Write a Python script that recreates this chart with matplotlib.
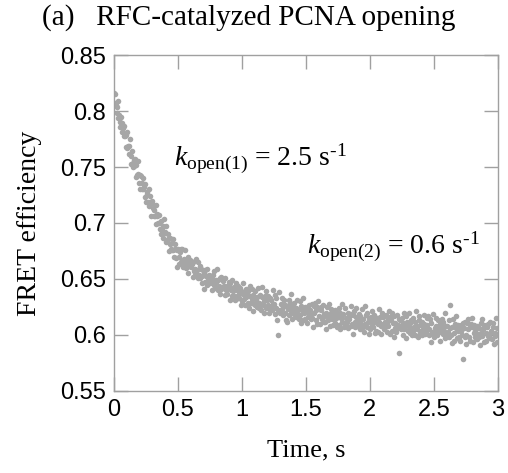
import numpy as np
import matplotlib
matplotlib.use('Agg')
import matplotlib.pyplot as plt
from matplotlib.ticker import FormatStrFormatter, MultipleLocator

# FRET efficiency trace (one row = 0.05 s)
fret = [
    0.816, 0.807, 0.815, 0.805, 0.798, 0.804, 0.809, 0.794, 0.796, 0.786,
    0.790, 0.795, 0.781, 0.789, 0.785, 0.778, 0.787, 0.778, 0.768, 0.779,
    0.781, 0.767, 0.769, 0.762, 0.769, 0.775, 0.760, 0.753, 0.764, 0.754,
    0.750, 0.756, 0.751, 0.757, 0.741, 0.752, 0.743, 0.755, 0.744, 0.736,
    0.743, 0.730, 0.742, 0.736, 0.730, 0.740, 0.730, 0.732, 0.723, 0.735,
    0.719, 0.726, 0.728, 0.719, 0.730, 0.715, 0.719, 0.724, 0.706, 0.718,
    0.720, 0.713, 0.706, 0.712, 0.706, 0.716, 0.699, 0.706, 0.708, 0.700,
    0.700, 0.707, 0.695, 0.690, 0.702, 0.694, 0.697, 0.687, 0.704, 0.691,
    0.692, 0.683, 0.697, 0.684, 0.686, 0.690, 0.675, 0.687, 0.681, 0.677,
    0.676, 0.682, 0.676, 0.686, 0.670, 0.677, 0.681, 0.669, 0.676, 0.661,
    0.677, 0.670, 0.663, 0.674, 0.677, 0.665, 0.666, 0.677, 0.661, 0.668,
    0.663, 0.676, 0.666, 0.660, 0.662, 0.670, 0.655, 0.666, 0.662, 0.667,
    0.666, 0.661, 0.663, 0.652, 0.665, 0.657, 0.654, 0.659, 0.668, 0.654,
    0.658, 0.651, 0.665, 0.654, 0.651, 0.662, 0.659, 0.646, 0.653, 0.658,
    0.641, 0.655, 0.647, 0.658, 0.653, 0.645, 0.659, 0.649, 0.654, 0.646,
    0.646, 0.649, 0.653, 0.640, 0.654, 0.649, 0.645, 0.657, 0.642, 0.649,
    0.647, 0.659, 0.640, 0.649, 0.644, 0.651, 0.637, 0.641, 0.652, 0.643,
    0.642, 0.648, 0.644, 0.636, 0.651, 0.640, 0.644, 0.637, 0.642, 0.647,
    0.644, 0.631, 0.646, 0.640, 0.635, 0.649, 0.636, 0.643, 0.640, 0.631,
    0.646, 0.632, 0.640, 0.635, 0.644, 0.633, 0.637, 0.642, 0.627, 0.639,
    0.630, 0.637, 0.646, 0.632, 0.639, 0.627, 0.641, 0.634, 0.637, 0.629,
    0.639, 0.624, 0.635, 0.644, 0.629, 0.632, 0.641, 0.621, 0.636, 0.628,
    0.639, 0.627, 0.631, 0.625, 0.634, 0.642, 0.629, 0.624, 0.636, 0.628,
    0.622, 0.634, 0.643, 0.627, 0.630, 0.620, 0.635, 0.639, 0.624, 0.631,
    0.627, 0.635, 0.624, 0.620, 0.633, 0.626, 0.631, 0.622, 0.640, 0.628,
    0.628, 0.636, 0.619, 0.624, 0.633, 0.613, 0.600, 0.622, 0.638, 0.620,
    0.621, 0.628, 0.623, 0.633, 0.618, 0.626, 0.631, 0.620, 0.627, 0.613,
    0.612, 0.626, 0.623, 0.631, 0.618, 0.629, 0.621, 0.637, 0.614, 0.625,
    0.626, 0.619, 0.629, 0.621, 0.616, 0.624, 0.631, 0.618, 0.622, 0.614,
    0.630, 0.618, 0.611, 0.626, 0.622, 0.633, 0.613, 0.620, 0.625, 0.614,
    0.623, 0.611, 0.625, 0.620, 0.616, 0.627, 0.618, 0.622, 0.614, 0.628,
    0.615, 0.607, 0.626, 0.620, 0.629, 0.613, 0.622, 0.610, 0.625, 0.630,
    0.623, 0.617, 0.610, 0.622, 0.625, 0.614, 0.616, 0.627, 0.612, 0.619,
    0.612, 0.620, 0.605, 0.625, 0.616, 0.613, 0.628, 0.619, 0.608, 0.623,
    0.614, 0.621, 0.609, 0.619, 0.617, 0.611, 0.622, 0.615, 0.607, 0.620,
    0.616, 0.609, 0.624, 0.620, 0.605, 0.615, 0.612, 0.628, 0.619, 0.607,
    0.611, 0.624, 0.615, 0.609, 0.612, 0.620, 0.606, 0.617, 0.614, 0.619,
    0.608, 0.626, 0.610, 0.618, 0.601, 0.621, 0.612, 0.607, 0.624, 0.616,
    0.608, 0.615, 0.612, 0.619, 0.605, 0.617, 0.610, 0.623, 0.614, 0.607,
    0.614, 0.603, 0.626, 0.610, 0.618, 0.607, 0.620, 0.612, 0.615, 0.601,
    0.605, 0.613, 0.616, 0.609, 0.621, 0.607, 0.612, 0.618, 0.602, 0.615,
    0.604, 0.615, 0.610, 0.603, 0.623, 0.612, 0.616, 0.601, 0.608, 0.620,
    0.616, 0.610, 0.605, 0.612, 0.607, 0.618, 0.603, 0.611, 0.614, 0.608,
    0.621, 0.616, 0.601, 0.613, 0.604, 0.620, 0.611, 0.617, 0.598, 0.606,
    0.611, 0.603, 0.618, 0.606, 0.609, 0.614, 0.584, 0.613, 0.608, 0.605,
    0.615, 0.600, 0.611, 0.620, 0.605, 0.608, 0.617, 0.597, 0.612, 0.604,
    0.608, 0.620, 0.602, 0.611, 0.606, 0.613, 0.600, 0.604, 0.615, 0.607,
    0.600, 0.612, 0.621, 0.605, 0.608, 0.598, 0.613, 0.617, 0.602, 0.609,
    0.604, 0.612, 0.600, 0.605, 0.618, 0.610, 0.601, 0.607, 0.603, 0.615,
    0.609, 0.617, 0.600, 0.605, 0.614, 0.594, 0.611, 0.603, 0.619, 0.601,
    0.598, 0.606, 0.602, 0.615, 0.608, 0.600, 0.605, 0.613, 0.603, 0.610,
    0.595, 0.609, 0.606, 0.614, 0.601, 0.612, 0.604, 0.620, 0.597, 0.608,
    0.601, 0.608, 0.603, 0.613, 0.598, 0.606, 0.627, 0.600, 0.607, 0.593,
    0.614, 0.602, 0.595, 0.610, 0.606, 0.617, 0.597, 0.604, 0.609, 0.598,
    0.607, 0.595, 0.609, 0.604, 0.600, 0.611, 0.579, 0.606, 0.598, 0.612,
    0.600, 0.592, 0.611, 0.605, 0.614, 0.598, 0.607, 0.595, 0.610, 0.615,
    0.607, 0.594, 0.602, 0.609, 0.598, 0.604, 0.606, 0.596, 0.608, 0.601,
    0.598, 0.606, 0.591, 0.611, 0.602, 0.599, 0.614, 0.605, 0.594, 0.609,
    0.608, 0.602, 0.595, 0.607, 0.610, 0.599, 0.601, 0.612, 0.597, 0.604,
    0.603, 0.596, 0.611, 0.607, 0.592, 0.602, 0.599, 0.615, 0.606, 0.594,
]
time_step = 0.005  # s between frames
time = np.arange(len(fret)) * time_step

title = '(a)   RFC-catalyzed PCNA opening'
label_k1 = r'$k_{\mathrm{open(1)}}$ = 2.5 s$^{\text{-1}}$'
label_k2 = r'$k_{\mathrm{open(2)}}$ = 0.6 s$^{\text{-1}}$'

plt.rcParams['font.family'] = 'Liberation Sans'
plt.rcParams['mathtext.fontset'] = 'custom'
plt.rcParams['mathtext.rm'] = 'Liberation Serif'
plt.rcParams['mathtext.it'] = 'Liberation Serif:italic'

frame_col = '#a0a0a0'
dot_col = '#a6a6a6'
serif = 'Liberation Serif'

fig = plt.figure(figsize=(5.08, 4.73), dpi=100)
ax = fig.add_axes([0.2244, 0.1734, 0.7556, 0.7103])

ax.plot(time, fret, 'o', color=dot_col, ms=4.0, mew=0)

ax.set_xlim(0, 3)
ax.set_ylim(0.55, 0.85)
ax.xaxis.set_major_locator(MultipleLocator(0.5))
ax.yaxis.set_major_locator(MultipleLocator(0.05))
ax.xaxis.set_major_formatter(FormatStrFormatter('%g'))
ax.yaxis.set_major_formatter(FormatStrFormatter('%g'))
ax.tick_params(direction='in', length=10, width=1, color=frame_col,
               top=True, right=True, labelsize=17, pad=6)
for sp in ax.spines.values():
    sp.set_color(frame_col)
    sp.set_linewidth(1)

ax.set_xlabel('Time, s', family=serif, fontsize=19, labelpad=13)
ax.set_ylabel('FRET efficiency', family=serif, fontsize=20, labelpad=13)

ax.text(0.47, 0.751, label_k1, family=serif, fontsize=20)
ax.text(1.51, 0.673, label_k2, family=serif, fontsize=20)

fig.text(0.49, 0.947, title, family=serif, fontsize=21, ha='center', va='baseline')

fig.savefig('out.png', dpi=100)
